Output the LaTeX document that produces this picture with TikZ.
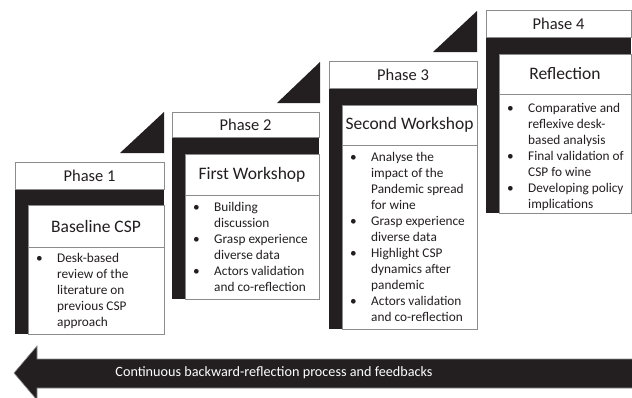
\documentclass[tikz,border=0pt]{standalone}
\usepackage{fontspec}
\setmainfont{Carlito}
\definecolor{blk}{HTML}{231F20}
\definecolor{gry}{HTML}{8C8C8C}
\tikzset{
  box/.style={draw=gry, fill=white, line width=0.8pt},
  phasetxt/.style={font=\fontsize{16.5}{19}\selectfont, text=blk, inner sep=0pt},
  titletxt/.style={font=\fontsize{17.5}{20}\selectfont, text=blk, inner sep=0pt},
  bultxt/.style={font=\fontsize{13.3}{16}\selectfont, text=blk, inner sep=0pt, anchor=base west},
  arrtxt/.style={font=\fontsize{14.2}{17}\selectfont, text=white, inner sep=0pt},
}
\newcommand\bl{\makebox[29pt][l]{\hspace{8pt}\textbullet}}
\newcommand\blist[1]{\begin{tabular}[t]{@{}l@{}l@{}}#1\end{tabular}}
\begin{document}
\begin{tikzpicture}[x=1pt,y=-1pt]
\useasboundingbox (0,0) rectangle (632,397);
\clip (0,0) rectangle (632,397);
% ---- Phase 1
\fill[blk] (15,189) rectangle (164,334);
\draw[box] (15,162) rectangle (164,189);
\draw[box] (28,205) rectangle (164,247);
\draw[box] (28,247) rectangle (164,334);
\node[phasetxt] (p1) at (89.5,175.5) {Phase 1};
\node[titletxt] (t1) at (96,226) {Baseline CSP};
\node[bultxt] (b1) at (28,262.5) {\blist{\bl & Desk-based\\ & review of the\\ & literature on\\ & previous CSP\\ & approach}};
\fill[blk] (120,153) -- (164,153) -- (164,112) -- cycle;
% ---- Phase 2
\fill[blk] (172,137) rectangle (319,299);
\draw[box] (172,112) rectangle (319,137);
\draw[box] (185,154) rectangle (319,195);
\draw[box] (185,195) rectangle (319,299);
\node[phasetxt] (p2) at (245.5,124.5) {Phase 2};
\node[titletxt] (t2) at (252,174.5) {First Workshop};
\node[bultxt] (b2) at (185,211.5) {\blist{\bl & Building\\ & discussion\\ \bl & Grasp experience\\ & diverse data\\ \bl & Actors validation\\ & and co-reflection}};
\fill[blk] (277,103) -- (320,103) -- (320,62) -- cycle;
% ---- Phase 3
\fill[blk] (329,88) rectangle (477,329);
\draw[box] (329,61) rectangle (477,88);
\draw[box] (342,105) rectangle (477,145);
\draw[box] (342,145) rectangle (477,329);
\node[phasetxt] (p3) at (403,74.5) {Phase 3};
\node[titletxt] (t3) at (409.5,125) {Second Workshop};
\node[bultxt] (b3) at (342,161) {\blist{\bl & Analyse the\\ & impact of the\\ & Pandemic spread\\ & for wine\\ \bl & Grasp experience\\ & diverse data\\ \bl & Highlight CSP\\ & dynamics after\\ & pandemic\\ \bl & Actors validation\\ & and co-reflection}};
\fill[blk] (433,52) -- (477,52) -- (477,11) -- cycle;
% ---- Phase 4
\fill[blk] (486,37) rectangle (631,213);
\draw[box] (486,10) rectangle (631,37);
\draw[box] (499,54) rectangle (631,94);
\draw[box] (499,94) rectangle (631,213);
\node[phasetxt] (p4) at (558.5,23.5) {Phase 4};
\node[titletxt] (t4) at (565,74) {Reflection};
\node[bultxt] (b4) at (499,112) {\blist{\bl & Comparative and\\ & reflexive desk-\\ & based analysis\\ \bl & Final validation of\\ & CSP fo wine\\ \bl & Developing policy\\ & implications}};
% ---- Arrow
\fill[blk, draw=gry, line width=0.6pt] (14,373) -- (37,346) -- (37,359) -- (634,359) -- (634,388) -- (37,388) -- (37,400) -- cycle;
\node[arrtxt] (arr) at (274,373) {Continuous backward-reflection process and feedbacks};
\end{tikzpicture}
\end{document}
